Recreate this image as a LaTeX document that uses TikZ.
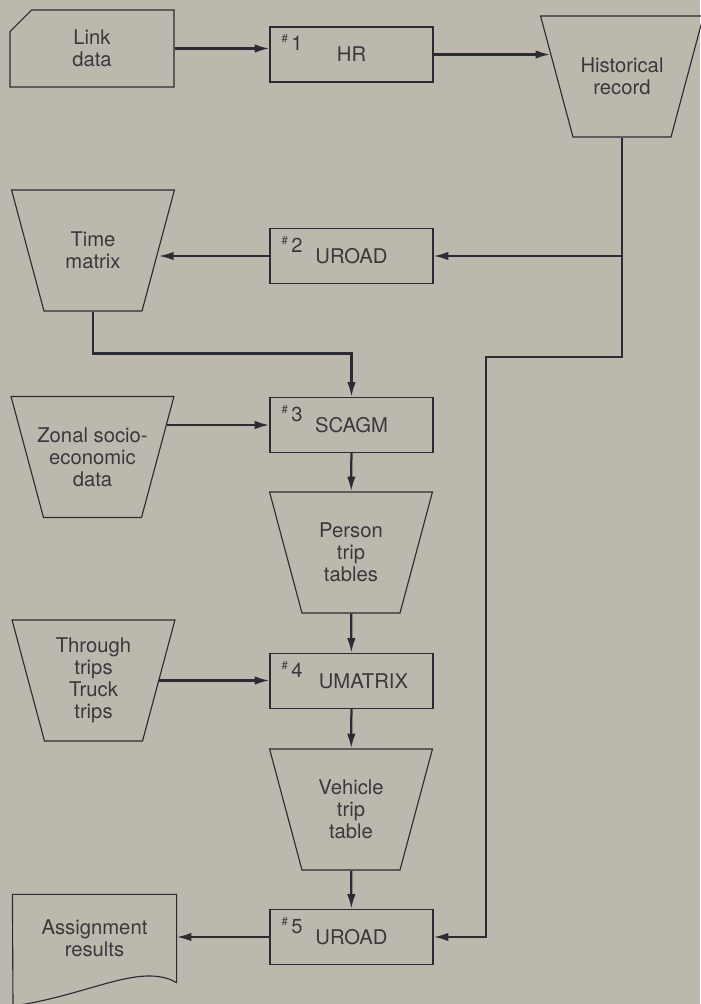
\documentclass[tikz,border=0pt]{standalone}
\usepackage{fontspec}
\setmainfont{TeX Gyre Heros}
\usepackage{tikz}
\usetikzlibrary{arrows.meta,calc,shapes.geometric,shapes.misc}
\definecolor{paper}{HTML}{BCB8AD}
\definecolor{ink}{HTML}{2C2A33}
\definecolor{inktext}{HTML}{3A383C}
\tikzset{proc/.style={draw=ink,line width=0.8pt,minimum width=4.075cm,minimum height=1.375cm,inner sep=0pt,align=center,text=inktext},store/.style={trapezium,trapezium angle=75,shape border rotate=180,inner ysep=0pt,inner xsep=-0.175cm,draw=ink,line width=0.8pt,text=inktext,execute at begin node={\begin{minipage}[c][3.025cm][c]{2.8cm}\centering},execute at end node={\end{minipage}}},arr/.style={-{Latex[length=10.5pt,width=6pt]},draw=ink,line width=1.6pt},num/.style={anchor=north west,inner sep=0pt,text=inktext}}

\begin{document}
\begin{tikzpicture}[x=0.025cm,y=-0.025cm,font=\fontsize{14.4}{15.6}\selectfont,card/.style={chamfered rectangle,chamfered rectangle corners=north west,chamfered rectangle xsep=0.42cm,draw=ink,line width=0.8pt,minimum width=4.1cm,minimum height=1.925cm,align=center,text=inktext}]
\useasboundingbox[fill=paper] (0,0) rectangle (700,1004);
% programs, numbered in the upper left corner
\foreach \n/\y/\txt in {1/54.5/HR,2/256/UROAD,3/425/SCAGM,4/681/\hspace*{17pt}UMATRIX,5/937/UROAD}{\node[proc] (p\n) at (351.5,\y) {\txt};\node[num] (n\n) at ($(p\n.north west)+(12,8)$) {\raisebox{0.4em}{\fontsize{8}{8}\selectfont\#}\,\n};}
% files
\foreach \id/\x/\y/\txt in {hist/622/76.5/Historical\\record,time/93/250.5/Time\\matrix,zonal/92.5/457/Zonal socio-\\economic\\data,person/351/552.5/Person\\trip\\tables,through/93.5/680.5/Through\\trips\\Truck\\trips,vehicle/351/809.5/Vehicle\\trip\\table}{\node[store] (\id) at (\x,\y) {\txt};}
\node[card] (link) at (92,48.5) {Link\\data};
\node[proc,draw=none,minimum height=2.175cm] (res) at (94.5,938.5) {Assignment\\results};
\draw[ink,line width=0.8pt] (res.south east) .. controls (140,962) and (90,995) .. (13,1006) -- (res.north west) -- (res.north east) -- cycle;
\coordinate (bend) at (486,357);
% flow
\draw[arr] (link.east) -- (link.east -| p1.west);
\draw[arr] (p1.east) -- (p1.east -| hist.163);
\draw[arr] (hist.south) |- (bend) |- (p5.east);
\draw[arr] (hist.south |- p2.east) -- (p2.east);
\draw[arr] (p2.west) -- (p2.west -| time.east);
\draw[arr] (time.south) -- ++(0,42) -| (p3.north);
\draw[arr] (zonal.24 |- p3.west) -- (p3.west);
\draw[arr] (p3) -- (person);
\draw[arr] (person) -- (p4);
\draw[arr] (through.east) -- (through.east -| p4.west);
\draw[arr] (p4) -- (vehicle);
\draw[arr] (vehicle) -- (p5);
\draw[arr] (p5.west) -- (p5.west -| res.east);
\end{tikzpicture}
\end{document}
